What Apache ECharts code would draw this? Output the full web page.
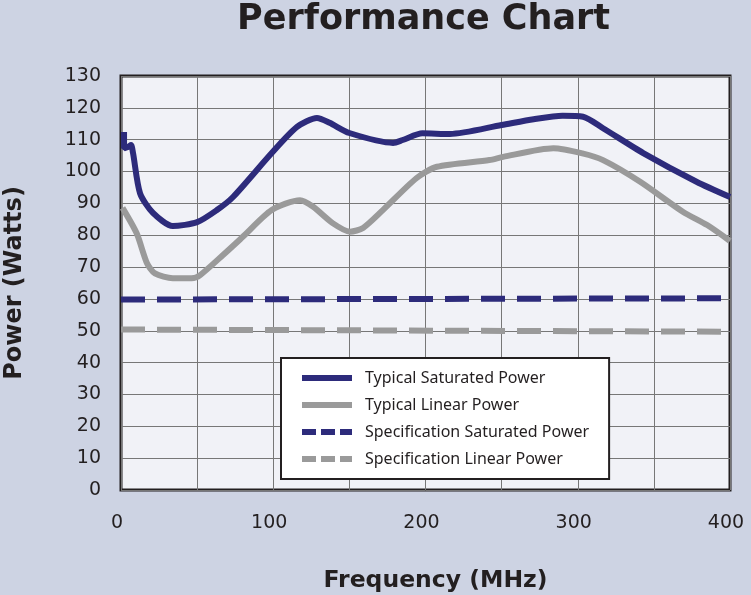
<!DOCTYPE html>
<html>
<head>
<meta charset="utf-8">
<script src="https://cdn.jsdelivr.net/npm/echarts@6/dist/echarts.min.js"></script>
<style>
html,body{margin:0;padding:0;background:#cdd3e3;}
#chart{width:751px;height:595px;}
</style>
</head>
<body>
<div id="chart"></div>
<script>
const titleText = 'Performance Chart';
const xName = 'Frequency (MHz)';
const yName = 'Power (Watts)';
const seriesNames = ['Typical Saturated Power','Typical Linear Power','Specification Saturated Power','Specification Linear Power'];

const satFreq = [2, 2, 4.6, 6.6, 7.9, 12.5, 21, 34, 50, 63, 73.6, 99, 115.6, 128.7, 137, 150, 178.7, 185, 198, 216, 250, 271, 290, 303.5, 316.6, 343, 378, 400];
const satPower = [112.4, 107.3, 107.7, 108.3, 105.8, 93.2, 87.0, 82.9, 84.1, 87.9, 92.0, 105.8, 114.0, 116.8, 115.3, 112.1, 109.0, 109.9, 112, 111.8, 114.6, 116.4, 117.5, 117.2, 113.6, 105.8, 96.8, 92.0];

const linFreq = [1, 10.3, 17, 22.3, 34, 46.4, 52, 67, 80, 99, 117.6, 126, 139, 150.4, 159, 172, 194, 207.5, 242, 251, 284, 303, 316.6, 341, 369, 385, 400];
const linPower = [88.6, 80.6, 71.3, 68, 66.5, 66.5, 67.5, 73.8, 79.5, 87.9, 91, 89, 83.8, 81.1, 82.3, 87.9, 97.9, 101.5, 103.6, 104.6, 107.3, 105.7, 103.6, 96.8, 87.4, 83.2, 78.2];

const specFreq = [0, 400];
const specSatPower = [59.8, 60.2];
const specLinPower = [50.4, 49.7];

const xTicks = [0, 100, 200, 300, 400];

const navy = '#2d2b7b';
const gray = '#9a9a9a';
const ink = '#231f20';

function pairs(xs, ys){ return xs.map((x,i)=>[x, ys[i]]); }

const chart = echarts.init(document.getElementById('chart'));
chart.setOption({
  backgroundColor: '#cdd3e3',
  animation: false,
  title: {
    text: titleText, left: 232, top: -3,
    textStyle: {fontFamily: 'DejaVu Sans', fontWeight: 'bold', fontSize: 35, color: ink}
  },
  grid: {
    left: 121, right: 21, top: 76, bottom: 105,
    containLabel: false, outerBoundsMode: 'none',
    show: true, backgroundColor: '#f1f2f7', borderColor: ink, borderWidth: 3
  },
  xAxis: {
    type: 'value', min: 0, max: 400, interval: 50,
    name: xName, nameLocation: 'middle', nameGap: 79,
    nameTextStyle: {fontFamily: 'DejaVu Sans', fontWeight: 'bold', fontSize: 23.5, color: ink, padding: [0, 0, 0, 20]},
    axisLine: {show: false}, axisTick: {show: false},
    splitLine: {show: true, lineStyle: {color: '#777777', width: 1}},
    axisLabel: {
      margin: 24, fontFamily: 'DejaVu Sans', fontSize: 19, color: ink, padding: [0, 8, 0, 0],
      formatter: v => xTicks.includes(v) ? String(v) : ''
    }
  },
  yAxis: {
    type: 'value', min: 0, max: 130, interval: 10,
    name: yName, nameLocation: 'middle', nameGap: 94,
    nameTextStyle: {fontFamily: 'DejaVu Sans', fontWeight: 'bold', fontSize: 24, color: ink},
    axisLine: {show: false}, axisTick: {show: false},
    splitLine: {show: true, lineStyle: {color: '#777777', width: 1}},
    axisLabel: {margin: 20, fontFamily: 'DejaVu Sans', fontSize: 19, color: ink}
  },
  legend: {
    orient: 'vertical', left: 281, top: 358,
    backgroundColor: '#ffffff', borderColor: ink, borderWidth: 2, borderRadius: 0,
    padding: [12, 20, 12, 18],
    itemWidth: 50, itemHeight: 14, itemGap: 11,
    itemStyle: {opacity: 0},
    textStyle: {fontFamily: 'Noto Sans', fontSize: 16, color: ink, padding: [0,0,0,8]},
    data: [
      {name: seriesNames[0], lineStyle: {width: 6}},
      {name: seriesNames[1], lineStyle: {width: 6}},
      {name: seriesNames[2], lineStyle: {width: 6, type: [14, 5]}},
      {name: seriesNames[3], lineStyle: {width: 6, type: [14, 5]}}
    ]
  },
  series: [
    {name: seriesNames[0], type: 'line', data: pairs(satFreq, satPower), symbol: 'none', smooth: 0.25,
     lineStyle: {color: navy, width: 6}, itemStyle: {color: navy}, z: 4},
    {name: seriesNames[1], type: 'line', data: pairs(linFreq, linPower), symbol: 'none', smooth: 0.25,
     lineStyle: {color: gray, width: 6}, itemStyle: {color: gray}, z: 3},
    {name: seriesNames[2], type: 'line', data: pairs(specFreq, specSatPower), symbol: 'none',
     lineStyle: {color: navy, width: 6, type: [24, 12]}, itemStyle: {color: navy}, z: 2},
    {name: seriesNames[3], type: 'line', data: pairs(specFreq, specLinPower), symbol: 'none',
     lineStyle: {color: gray, width: 6, type: [24, 12]}, itemStyle: {color: gray}, z: 2}
  ]
});
</script>
</body>
</html>
